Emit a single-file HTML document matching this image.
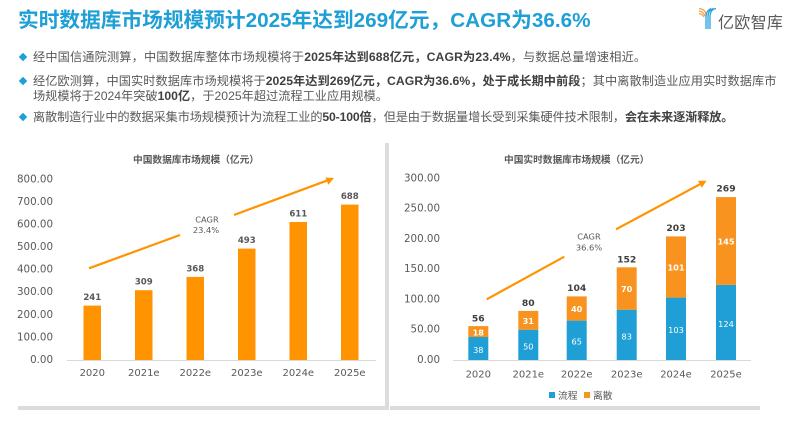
<!DOCTYPE html>
<html>
<head>
<meta charset="utf-8">
<style>
  html,body{margin:0;padding:0;background:#fff;}
  body{width:797px;height:423px;position:relative;overflow:hidden;font-family:"Liberation Sans","Noto Sans CJK SC",sans-serif;}
  .title{position:absolute;left:18px;top:6px;font-size:20.7px;font-weight:bold;color:#1e9fd6;white-space:nowrap;line-height:30px;font-family:"Liberation Sans","Noto Sans CJK SC",sans-serif;}
  .ln{position:absolute;left:33px;font-size:12.2px;color:#595959;white-space:nowrap;line-height:14px;font-family:"Liberation Sans","Noto Sans CJK SC",sans-serif;}
  .ln b{color:#404040;font-weight:bold;}
  .dia{position:absolute;width:6px;height:6px;background:#1e9fd6;transform:rotate(45deg);}
  .logo{position:absolute;left:718px;top:10px;font-size:16px;color:#5a5a5a;line-height:22px;white-space:nowrap;font-family:"Noto Sans CJK SC",sans-serif;letter-spacing:0.3px;}
  svg{position:absolute;left:0;top:0;}
</style>
</head>
<body>
<div class="title">实时数据库市场规模预计2025年达到269亿元，CAGR为36.6%</div>

<div class="logo">亿欧智库</div>

<div class="dia" style="left:20px;top:53.7px;"></div>
<div class="ln" style="top:49.7px;letter-spacing:0.14px;">经中国信通院测算，中国数据库整体市场规模将于<b>2025年达到688亿元，CAGR为23.4%</b>，与数据总量增速相近。</div>

<div class="dia" style="left:20px;top:77.7px;"></div>
<div class="ln" style="top:73.7px;letter-spacing:0.06px;">经亿欧测算，中国实时数据库市场规模将于<b>2025年达到269亿元，CAGR为36.6%，处于成长期中前段</b>；其中离散制造业应用实时数据库市</div>
<div class="ln" style="top:88.5px;">场规模将于2024年突破<b>100亿</b>，于2025年超过流程工业应用规模。</div>

<div class="dia" style="left:20px;top:114.3px;"></div>
<div class="ln" style="top:110.3px;letter-spacing:-0.13px;">离散制造行业中的数据采集市场规模预计为流程工业的<b>50-100倍</b>，但是由于数据量增长受到采集硬件技术限制，<b>会在未来逐渐释放。</b></div>

<svg width="797" height="423" viewBox="0 0 797 423" xmlns="http://www.w3.org/2000/svg">
  <!-- logo icon -->
  <g fill="none" stroke-width="1.3">
    <path d="M699,8.5 Q705,9 706.5,15" stroke="#f6a04d"/>
    <path d="M699,11 Q703.5,11.5 705,16" stroke="#f6a04d"/>
    <path d="M699,13.5 Q702.5,14 704,17" stroke="#f6a04d"/>
    <path d="M716,8.5 Q710,9.5 710,17 L710,29" stroke="#29a3dc"/>
    <path d="M713.5,8.5 Q708,10 708,17 L708,29" stroke="#29a3dc"/>
    <path d="M711,8.5 Q706,11 706,17 L706,29" stroke="#29a3dc"/>
  </g>

  <!-- panel borders -->
  <rect x="385" y="143" width="4" height="266" fill="#dcdcdc"/>
  <rect x="18" y="406" width="371" height="4" fill="#dcdcdc"/>
  <rect x="390" y="406" width="370" height="4" fill="#dcdcdc"/>

  <!-- LEFT CHART -->
  <text x="196" y="159" text-anchor="middle" dominant-baseline="central" font-family="Noto Sans CJK SC, sans-serif" font-weight="bold" font-size="9.7" fill="#595959">中国数据库市场规模（亿元）</text>
  <g font-family="DejaVu Sans, sans-serif" font-size="10.3" fill="#595959" text-anchor="end" dominant-baseline="central">
    <text x="53" y="360">0.00</text>
    <text x="53" y="337.4">100.00</text>
    <text x="53" y="314.8">200.00</text>
    <text x="53" y="292.2">300.00</text>
    <text x="53" y="269.6">400.00</text>
    <text x="53" y="247.1">500.00</text>
    <text x="53" y="224.5">600.00</text>
    <text x="53" y="201.9">700.00</text>
    <text x="53" y="179.3">800.00</text>
  </g>
  <line x1="67" y1="360.5" x2="376" y2="360.5" stroke="#d9d9d9" stroke-width="1"/>
  <g fill="#ff9300">
    <rect x="83.5" y="305.6" width="17.5" height="54.4"/>
    <rect x="135" y="290.2" width="17.5" height="69.8"/>
    <rect x="186.5" y="276.9" width="17.5" height="83.1"/>
    <rect x="238" y="248.6" width="17.5" height="111.4"/>
    <rect x="289.5" y="222.0" width="17.5" height="138.0"/>
    <rect x="341" y="204.6" width="17.5" height="155.4"/>
  </g>
  <g font-family="DejaVu Sans, sans-serif" font-weight="bold" font-size="8.6" fill="#595959" text-anchor="middle" dominant-baseline="central">
    <text x="92.3" y="298">241</text>
    <text x="143.8" y="282.6">309</text>
    <text x="195.3" y="269.3">368</text>
    <text x="246.8" y="241">493</text>
    <text x="298.3" y="214.4">611</text>
    <text x="349.8" y="197">688</text>
  </g>
  <g font-family="DejaVu Sans, sans-serif" font-size="10" fill="#595959" text-anchor="middle" dominant-baseline="central">
    <text x="92.3" y="373.3">2020</text>
    <text x="143.8" y="373.3">2021e</text>
    <text x="195.3" y="373.3">2022e</text>
    <text x="246.8" y="373.3">2023e</text>
    <text x="298.3" y="373.3">2024e</text>
    <text x="349.8" y="373.3">2025e</text>
  </g>
  <!-- left CAGR arrow -->
  <line x1="89" y1="268.3" x2="180" y2="235" stroke="#ff9300" stroke-width="2.2"/>
  <line x1="234" y1="215" x2="328" y2="180.2" stroke="#ff9300" stroke-width="2.2"/>
  <polygon points="334,178 325.5,177.5 328.3,184.8" fill="#ff9300"/>
  <g font-family="DejaVu Sans, sans-serif" font-size="8.3" fill="#595959" text-anchor="middle" dominant-baseline="central">
    <text x="207" y="219.3">CAGR</text>
    <text x="206" y="230">23.4%</text>
  </g>

  <!-- RIGHT CHART -->
  <text x="576.7" y="159" text-anchor="middle" dominant-baseline="central" font-family="Noto Sans CJK SC, sans-serif" font-weight="bold" font-size="9.7" fill="#595959">中国实时数据库市场规模（亿元）</text>
  <g font-family="DejaVu Sans, sans-serif" font-size="10.3" fill="#595959" text-anchor="end" dominant-baseline="central">
    <text x="440" y="360">0.00</text>
    <text x="440" y="329.7">50.00</text>
    <text x="440" y="299.4">100.00</text>
    <text x="440" y="269.2">150.00</text>
    <text x="440" y="238.9">200.00</text>
    <text x="440" y="208.6">250.00</text>
    <text x="440" y="178.3">300.00</text>
  </g>
  <line x1="453" y1="360.5" x2="751" y2="360.5" stroke="#d9d9d9" stroke-width="1"/>
  <g fill="#1f9fd5">
    <rect x="468.3" y="337.0" width="20" height="23.0"/>
    <rect x="518.3" y="329.7" width="20" height="30.3"/>
    <rect x="566.7" y="320.6" width="20" height="39.4"/>
    <rect x="616.7" y="309.7" width="20" height="50.3"/>
    <rect x="666" y="297.6" width="20" height="62.4"/>
    <rect x="716" y="284.9" width="20" height="75.1"/>
  </g>
  <g fill="#f7931e">
    <rect x="468.3" y="326.1" width="20" height="10.9"/>
    <rect x="518.3" y="310.9" width="20" height="18.8"/>
    <rect x="566.7" y="296.4" width="20" height="24.2"/>
    <rect x="616.7" y="267.3" width="20" height="42.4"/>
    <rect x="666" y="236.4" width="20" height="61.2"/>
    <rect x="716" y="197.1" width="20" height="87.8"/>
  </g>
  <!-- segment labels blue -->
  <g font-family="DejaVu Sans, sans-serif" font-size="8.2" fill="#ffffff" text-anchor="middle" dominant-baseline="central">
    <text x="478.3" y="350">38</text>
    <text x="528.3" y="346.5">50</text>
    <text x="576.7" y="341.5">65</text>
    <text x="626.7" y="336.5">83</text>
    <text x="676" y="330">103</text>
    <text x="726" y="324">124</text>
  </g>
  <g font-family="DejaVu Sans, sans-serif" font-weight="bold" font-size="8.2" fill="#ffffff" text-anchor="middle" dominant-baseline="central">
    <text x="478.3" y="332.3">18</text>
    <text x="528.3" y="321">31</text>
    <text x="576.7" y="309">40</text>
    <text x="626.7" y="289">70</text>
    <text x="676" y="267.5">101</text>
    <text x="726" y="241.5">145</text>
  </g>
  <g font-family="DejaVu Sans, sans-serif" font-weight="bold" font-size="9.2" fill="#404040" text-anchor="middle" dominant-baseline="central">
    <text x="478.3" y="319">56</text>
    <text x="528.3" y="303.7">80</text>
    <text x="576.7" y="288.5">104</text>
    <text x="626.7" y="260">152</text>
    <text x="676" y="228.7">203</text>
    <text x="726" y="189">269</text>
  </g>
  <g font-family="DejaVu Sans, sans-serif" font-size="10" fill="#595959" text-anchor="middle" dominant-baseline="central">
    <text x="478.3" y="375">2020</text>
    <text x="528.3" y="375">2021e</text>
    <text x="576.7" y="375">2022e</text>
    <text x="626.7" y="375">2023e</text>
    <text x="676" y="375">2024e</text>
    <text x="726" y="375">2025e</text>
  </g>
  <!-- right CAGR arrow -->
  <line x1="486.7" y1="299.3" x2="564.3" y2="256.7" stroke="#ff9300" stroke-width="2.2"/>
  <line x1="616" y1="229.3" x2="701" y2="183.7" stroke="#ff9300" stroke-width="2.2"/>
  <polygon points="706.5,180.8 698,180.8 701.8,187.8" fill="#ff9300"/>
  <g font-family="DejaVu Sans, sans-serif" font-size="8.3" fill="#595959" text-anchor="middle" dominant-baseline="central">
    <text x="589" y="236.7">CAGR</text>
    <text x="589" y="247.3">36.6%</text>
  </g>
  <!-- legend -->
  <rect x="549" y="392" width="6" height="6" fill="#1f9fd5"/>
  <text x="558" y="395" dominant-baseline="central" font-family="Noto Sans CJK SC, sans-serif" font-size="9.8" fill="#595959">流程</text>
  <rect x="584" y="392" width="6" height="6" fill="#f7931e"/>
  <text x="593" y="395" dominant-baseline="central" font-family="Noto Sans CJK SC, sans-serif" font-size="9.8" fill="#595959">离散</text>
</svg>
</body>
</html>
